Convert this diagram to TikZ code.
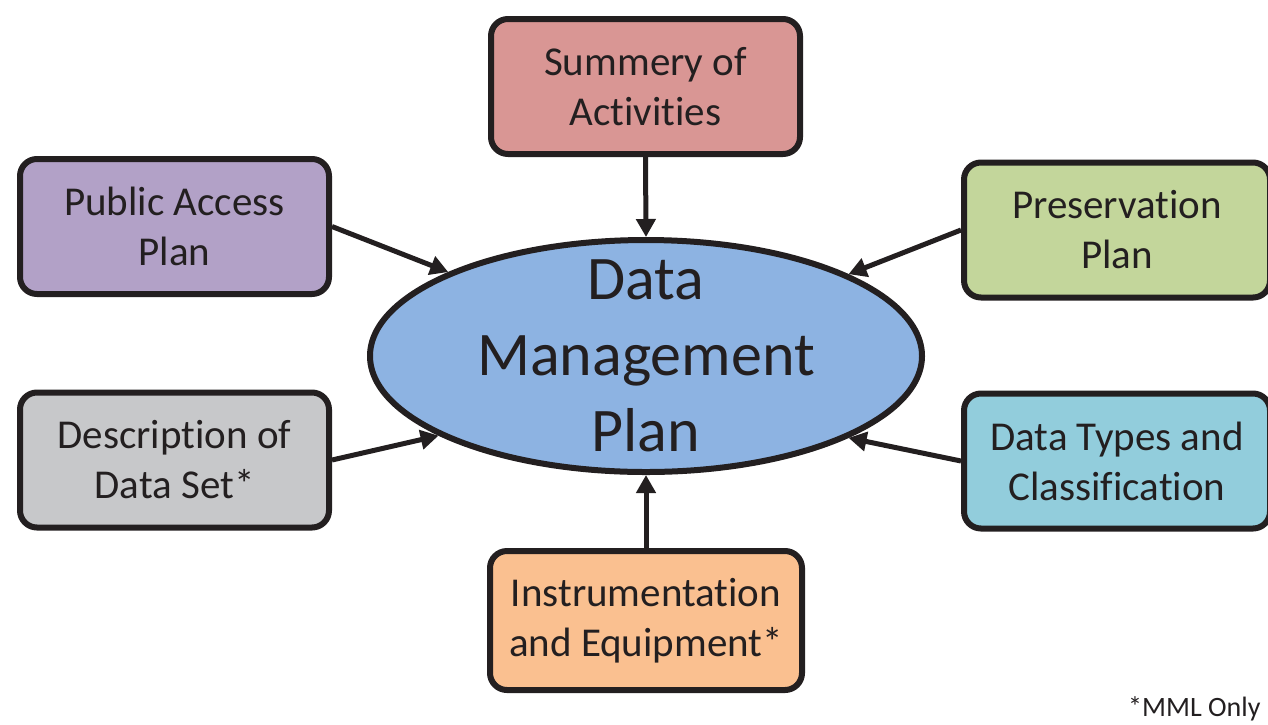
\documentclass[tikz,border=0pt]{standalone}
\usepackage{fontspec}
\setmainfont[Ligatures={NoCommon,NoContextual},RawFeature={-liga;-clig;-calt}]{Carlito}
\usetikzlibrary{shapes.geometric,arrows.meta}

\definecolor{ink}{HTML}{231F20}
\definecolor{sumfill}{HTML}{D99694}
\definecolor{pubfill}{HTML}{B2A1C7}
\definecolor{presfill}{HTML}{C3D69B}
\definecolor{descfill}{HTML}{C7C8CA}
\definecolor{typefill}{HTML}{92CDDC}
\definecolor{instfill}{HTML}{FAC090}
\definecolor{dmpfill}{HTML}{8DB3E2}

\tikzset{
  planbox/.style={draw=ink, line width=6pt, rounded corners=17pt,
    minimum width=309pt, minimum height=135pt, inner sep=0pt,
    align=center, text=ink, font=\fontsize{41}{50}\selectfont},
  hub/.style={ellipse, draw=ink, line width=6pt, fill=dmpfill,
    minimum width=552pt, minimum height=232pt, inner sep=0pt},
  feed/.style={draw=ink, line width=5pt,
    -{Triangle[length=18pt,width=19pt]}},
}

\begin{document}
\begin{tikzpicture}[x=1pt, y=-1pt]
  \clip (0,0) rectangle (1268,724);

  % central plan
  \node[hub] (dmp) at (646,356) {};
  \node[align=center, text=ink, font=\fontsize{62}{76}\selectfont]
    (dmptext) at (646,356) {Data\\Management\\Plan};

  % contributing parts
  \node[planbox, fill=sumfill] (sum) at (645.5,86.5) {Summery of\\Activities};
  \node[planbox, fill=pubfill] (pub) at (174.5,226.5) {Public Access\\Plan};
  \node[planbox, fill=presfill, minimum width=306pt] (pres) at (1117,230) {Preservation\\Plan};
  \node[planbox, fill=descfill] (desc) at (174.5,460) {Description of\\Data Set*};
  \node[planbox, fill=typefill, minimum width=306pt] (types) at (1117,461) {Data Types and\\Classification};
  \node[planbox, fill=instfill, minimum width=312pt, minimum height=139pt]
    (inst) at (646,620.5) {Instrumentation\\and Equipment*};

  % connectors into the plan
  \draw[feed] (sum.south) -- (dmp.north);
  \draw[feed] (inst.north) -- (dmp.south);
  \draw[feed] (pub.east) -- (dmp.157);
  \draw[feed] (desc.east) -- (dmp.201.7);
  \draw[feed] (pres.west) -- (dmp.22.9);
  \draw[feed] (types.west) -- (dmp.-22.2);

  % footnote
  \node[anchor=base west, inner sep=0pt, text=ink,
    font=\fontsize{28}{34}\selectfont] (note) at (1128,716) {*MML Only};
\end{tikzpicture}
\end{document}
